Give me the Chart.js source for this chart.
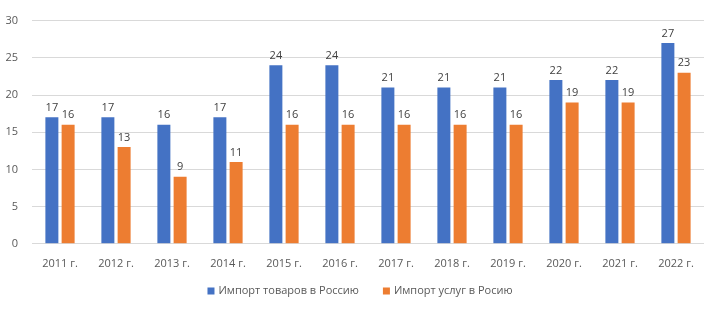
<!DOCTYPE html>
<html>
<head>
<meta charset="utf-8">
<script src="https://cdn.jsdelivr.net/npm/chart.js@4.4.0/dist/chart.umd.min.js"></script>
<style>
  html, body { margin: 0; padding: 0; background: #fff; }
  #wrap { width: 705px; height: 309px; }
</style>
</head>
<body>
<div id="wrap"><canvas id="importChart"></canvas></div>
<script>
const years = ["2011 г.", "2012 г.", "2013 г.", "2014 г.", "2015 г.", "2016 г.", "2017 г.", "2018 г.", "2019 г.", "2020 г.", "2021 г.", "2022 г."];
const goodsImport = [17, 17, 16, 17, 24, 24, 21, 21, 21, 22, 22, 27];
const servicesImport = [16, 13, 9, 11, 16, 16, 16, 16, 16, 19, 19, 23];
const yTicks = [0, 5, 10, 15, 20, 25, 30];

const FONT = "'Open Sans', sans-serif";

// simple value labels above the bars
const barLabels = {
    id: "barLabels",
    afterDatasetsDraw(chart) {
        const ctx = chart.ctx;
        ctx.save();
        ctx.font = "11px " + FONT;
        ctx.fillStyle = "#404040";
        ctx.textAlign = "center";
        ctx.textBaseline = "bottom";
        chart.data.datasets.forEach((ds, i) => {
            chart.getDatasetMeta(i).data.forEach((bar, j) => {
                ctx.fillText(ds.data[j], bar.x, bar.y - 4);
            });
        });
        ctx.restore();
    }
};

// legend drawn by hand so the spacing looks like the Excel one
const bottomLegend = {
    id: "bottomLegend",
    afterDraw(chart) {
        const ctx = chart.ctx;
        const items = chart.data.datasets;
        const box = 7, gapText = 4, gapItem = 24;
        ctx.save();
        ctx.font = "11px " + FONT;
        ctx.textBaseline = "middle";
        ctx.textAlign = "left";
        const widths = items.map(ds => box + gapText + ctx.measureText(ds.label).width);
        const total = widths.reduce((a, b) => a + b, 0) + gapItem * (items.length - 1);
        let x = 360 - total / 2;
        const y = 291;
        items.forEach((ds, i) => {
            ctx.fillStyle = ds.backgroundColor;
            ctx.fillRect(x, y - box / 2, box, box);
            ctx.fillStyle = "#595959";
            ctx.fillText(ds.label, x + box + gapText, y);
            x += widths[i] + gapItem;
        });
        ctx.restore();
    }
};

new Chart(document.getElementById("importChart").getContext("2d"), {
    type: "bar",
    data: {
        labels: years,
        datasets: [
            {
                label: "Импорт товаров в Россию",
                data: goodsImport,
                backgroundColor: "#4472C4",
                categoryPercentage: 0.58,
                barPercentage: 0.8
            },
            {
                label: "Импорт услуг в Росию",
                data: servicesImport,
                backgroundColor: "#ED7D31",
                categoryPercentage: 0.58,
                barPercentage: 0.8
            }
        ]
    },
    options: {
        responsive: true,
        maintainAspectRatio: false,
        animation: false,
        layout: { padding: { left: 0, right: 1, top: 0, bottom: 34 } },
        plugins: {
            legend: { display: false },
            tooltip: { enabled: false }
        },
        scales: {
            x: {
                grid: { display: false },
                border: { display: false },
                ticks: {
                    color: "#595959",
                    padding: 5,
                    maxRotation: 0,
                    font: { family: FONT, size: 11 }
                }
            },
            y: {
                min: 0,
                max: 30,
                afterBuildTicks(axis) {
                    axis.ticks = yTicks.map(v => ({ value: v }));
                },
                afterFit(axis) {
                    axis.width = 32;
                },
                grid: { color: "#d9d9d9", drawTicks: false },
                border: { display: false },
                ticks: {
                    color: "#595959",
                    padding: 14,
                    font: { family: FONT, size: 11 }
                }
            }
        }
    },
    plugins: [barLabels, bottomLegend]
});
</script>
</body>
</html>
